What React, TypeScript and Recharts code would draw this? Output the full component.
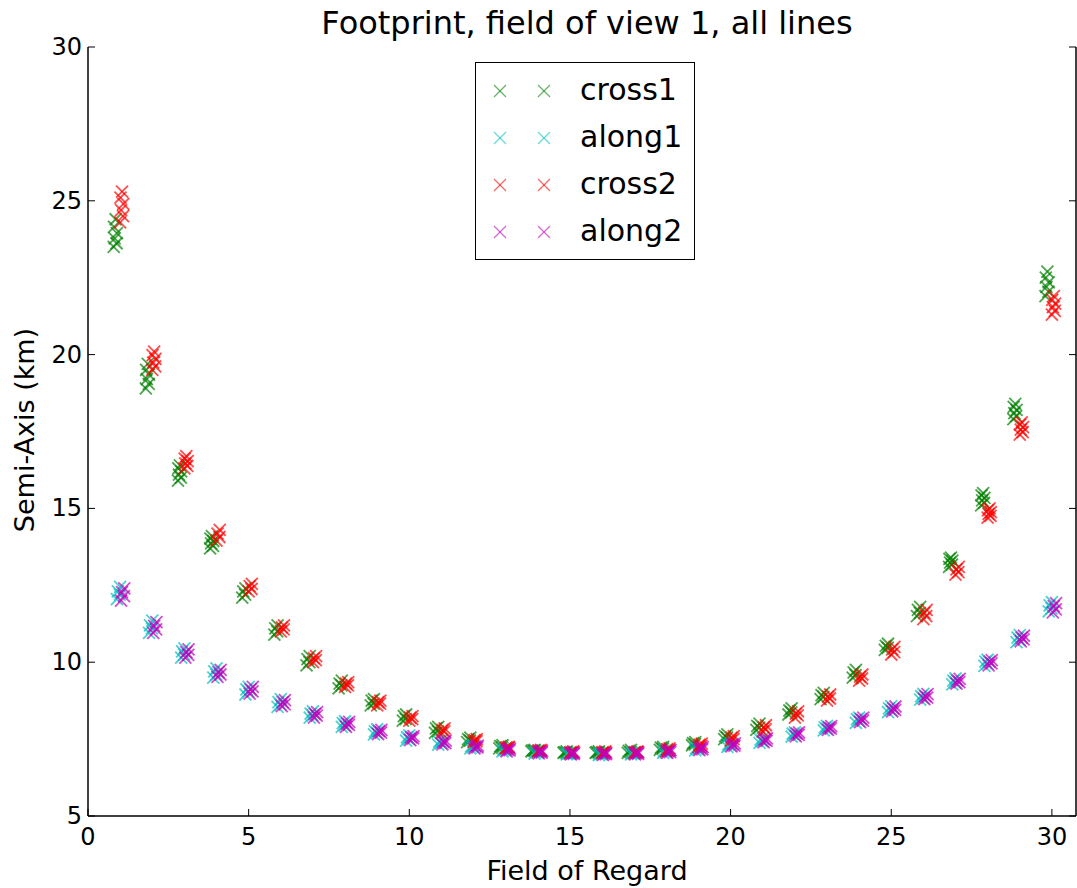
import React from 'react';
import { ScatterChart, Scatter, XAxis, YAxis } from 'recharts';

const FIELD_OF_REGARD = [1, 2, 3, 4, 5, 6, 7, 8, 9, 10, 11, 12, 13, 14, 15, 16, 17, 18, 19, 20, 21, 22, 23, 24, 25, 26, 27, 28, 29, 30];

const CROSS1 = [
  [23.5, 23.62, 23.78, 23.95, 24.15, 24.4], [18.9, 19.05, 19.2, 19.35, 19.5, 19.7], [15.9, 16.0, 16.1, 16.2, 16.3, 16.4], [13.7, 13.78, 13.86, 13.94, 14.02, 14.1],
  [12.1, 12.2, 12.3, 12.4], [10.9, 11.0, 11.1, 11.2], [9.9, 10.0, 10.1, 10.2], [9.15, 9.25, 9.3, 9.4],
  [8.6, 8.65, 8.75, 8.8], [8.1, 8.15, 8.25, 8.3], [7.7, 7.75, 7.85, 7.9], [7.4, 7.45, 7.5, 7.55],
  [7.2, 7.22, 7.27, 7.3], [7.1, 7.12, 7.13, 7.15], [7.05, 7.06, 7.08, 7.1], [7.05, 7.06, 7.08, 7.1],
  [7.05, 7.08, 7.12, 7.15], [7.15, 7.18, 7.22, 7.25], [7.3, 7.33, 7.37, 7.4], [7.5, 7.55, 7.6, 7.65],
  [7.8, 7.87, 7.93, 8.0], [8.3, 8.37, 8.43, 8.5], [8.8, 8.87, 8.93, 9.0], [9.5, 9.58, 9.67, 9.75],
  [10.4, 10.47, 10.53, 10.6], [11.5, 11.6, 11.7, 11.8], [13.1, 13.17, 13.24, 13.3, 13.36, 13.4], [15.1, 15.18, 15.26, 15.34, 15.42, 15.5],
  [17.9, 18.0, 18.1, 18.2, 18.3, 18.4], [21.9, 22.05, 22.2, 22.35, 22.5, 22.7],
];

const ALONG1 = [
  [12.05, 12.2, 12.3, 12.45], [10.95, 11.1, 11.2, 11.35], [10.15, 10.25, 10.35, 10.45], [9.5, 9.6, 9.7, 9.8],
  [8.95, 9.05, 9.12, 9.2], [8.55, 8.62, 8.7, 8.8], [8.2, 8.27, 8.33, 8.4], [7.9, 7.95, 8.02, 8.08],
  [7.65, 7.7, 7.75, 7.82], [7.45, 7.5, 7.56, 7.62], [7.32, 7.37, 7.42, 7.47], [7.2, 7.23, 7.27, 7.3],
  [7.1, 7.13, 7.17, 7.2], [7.03, 7.06, 7.09, 7.12], [7.0, 7.02, 7.04, 7.06], [6.98, 7.0, 7.03, 7.05],
  [7.0, 7.02, 7.05, 7.07], [7.05, 7.08, 7.12, 7.15], [7.13, 7.17, 7.21, 7.25], [7.25, 7.29, 7.33, 7.37],
  [7.38, 7.43, 7.48, 7.52], [7.58, 7.63, 7.68, 7.72], [7.78, 7.83, 7.88, 7.93], [8.03, 8.09, 8.15, 8.2],
  [8.38, 8.44, 8.5, 8.57], [8.78, 8.84, 8.9, 8.97], [9.28, 9.34, 9.4, 9.47], [9.88, 9.95, 10.02, 10.08],
  [10.65, 10.73, 10.8, 10.88], [11.65, 11.75, 11.85, 11.95],
];

const CROSS2 = [
  [24.3, 24.5, 24.7, 24.9, 25.1, 25.3], [19.5, 19.62, 19.74, 19.86, 19.98, 20.1], [16.3, 16.38, 16.46, 16.54, 16.62, 16.7], [13.95, 14.07, 14.18, 14.3],
  [12.3, 12.38, 12.47, 12.55], [11.0, 11.07, 11.13, 11.2], [10.0, 10.07, 10.13, 10.2], [9.2, 9.25, 9.3, 9.35],
  [8.6, 8.65, 8.7, 8.75], [8.1, 8.15, 8.2, 8.25], [7.7, 7.75, 7.8, 7.85], [7.4, 7.43, 7.47, 7.5],
  [7.2, 7.22, 7.23, 7.25], [7.1, 7.12, 7.13, 7.15], [7.05, 7.07, 7.08, 7.1], [7.05, 7.07, 7.08, 7.1],
  [7.05, 7.07, 7.08, 7.1], [7.1, 7.13, 7.17, 7.2], [7.25, 7.28, 7.32, 7.35], [7.45, 7.5, 7.55, 7.6],
  [7.75, 7.82, 7.88, 7.95], [8.2, 8.27, 8.33, 8.4], [8.75, 8.82, 8.88, 8.95], [9.4, 9.47, 9.53, 9.6],
  [10.25, 10.33, 10.42, 10.5], [11.4, 11.5, 11.6, 11.7], [12.85, 12.93, 13.02, 13.1], [14.7, 14.76, 14.82, 14.88, 14.94, 15.0],
  [17.4, 17.48, 17.56, 17.64, 17.72, 17.8], [21.3, 21.42, 21.54, 21.66, 21.78, 21.9],
];

const ALONG2 = [
  [12.0, 12.15, 12.28, 12.4], [10.95, 11.07, 11.18, 11.3], [10.15, 10.24, 10.33, 10.42], [9.52, 9.6, 9.68, 9.75],
  [8.98, 9.05, 9.12, 9.2], [8.57, 8.63, 8.7, 8.77], [8.2, 8.26, 8.32, 8.38], [7.9, 7.96, 8.01, 8.06],
  [7.66, 7.71, 7.76, 7.8], [7.47, 7.52, 7.56, 7.6], [7.33, 7.37, 7.41, 7.45], [7.2, 7.23, 7.26, 7.29],
  [7.1, 7.13, 7.16, 7.19], [7.04, 7.06, 7.09, 7.11], [7.0, 7.02, 7.04, 7.06], [6.99, 7.01, 7.03, 7.05],
  [7.0, 7.02, 7.05, 7.07], [7.05, 7.08, 7.11, 7.14], [7.14, 7.17, 7.21, 7.24], [7.26, 7.29, 7.33, 7.36],
  [7.4, 7.44, 7.48, 7.52], [7.59, 7.64, 7.68, 7.72], [7.8, 7.84, 7.88, 7.92], [8.05, 8.1, 8.15, 8.2],
  [8.4, 8.45, 8.5, 8.56], [8.8, 8.85, 8.9, 8.96], [9.3, 9.35, 9.4, 9.46], [9.9, 9.96, 10.02, 10.07],
  [10.68, 10.74, 10.8, 10.86], [11.62, 11.72, 11.82, 11.92],
];

// per-series horizontal offset of each cluster and per-point spread inside a cluster
const SERIES_NAMES = ['cross1', 'along1', 'cross2', 'along2'];
const SERIES_COLORS = ['#008000', '#00bfbf', '#ff0000', '#bf00bf'];
const SERIES_SHIFT = [-0.15, -0.05, 0.05, 0.08];
const POINT_SPREAD = [-0.05, 0.04, -0.02, 0.05, -0.04, 0.01];
const SERIES_VALUES = [CROSS1, ALONG1, CROSS2, ALONG2];

const X_TICKS = [0, 5, 10, 15, 20, 25, 30];
const Y_TICKS = [5, 10, 15, 20, 25, 30];

const FONT = '"DejaVu Sans", sans-serif';

const buildPoints = (vals: number[][], shift: number) =>
  FIELD_OF_REGARD.flatMap((f, i) => vals[i].map((v, j) => ({ x: f + shift + POINT_SPREAD[j], y: v })));

const makeCross = (color: string) => (props: any) => {
  const { cx, cy } = props;
  if (cx == null || cy == null) return <g />;
  const s = 6;
  return (
    <g stroke={color} strokeWidth={1.8} strokeOpacity={0.7}>
      <line x1={cx - s} y1={cy - s} x2={cx + s} y2={cy + s} />
      <line x1={cx - s} y1={cy + s} x2={cx + s} y2={cy - s} />
    </g>
  );
};

const BottomTick = (props: any) => {
  const { x, y, payload } = props;
  return (
    <g>
      <line x1={x} x2={x} y1={y} y2={y - 7} stroke="#000" strokeWidth={1} />
      <text x={x} y={y + 29} textAnchor="middle" fontSize={24} fontFamily={FONT} fill="#000">{payload.value}</text>
    </g>
  );
};
const TopTick = (props: any) => {
  const { x, y } = props;
  return <line x1={x} x2={x} y1={y} y2={y + 7} stroke="#000" strokeWidth={1} />;
};
const LeftTick = (props: any) => {
  const { x, y, payload } = props;
  return (
    <g>
      <line x1={x} x2={x + 7} y1={y} y2={y} stroke="#000" strokeWidth={1} />
      <text x={x - 6} y={y + 8} textAnchor="end" fontSize={24} fontFamily={FONT} fill="#000">{payload.value}</text>
    </g>
  );
};
const RightTick = (props: any) => {
  const { x, y } = props;
  return <line x1={x} x2={x - 7} y1={y} y2={y} stroke="#000" strokeWidth={1} />;
};

export default function App() {
  const X_DOMAIN = [0, 30.75];
  const Y_DOMAIN = [5, 30];
  return (
    <div style={{ position: 'absolute', left: 0, top: 0, width: 1077, height: 888, background: '#fff', fontFamily: FONT }}>
      <ScatterChart width={1077} height={888} margin={{ top: 47, right: 0, bottom: 0, left: 0 }}>
        <XAxis xAxisId="b" type="number" dataKey="x" orientation="bottom" domain={X_DOMAIN} ticks={X_TICKS}
          interval={0} tickSize={0} tickMargin={0} tick={<BottomTick />} tickLine={false}
          axisLine={{ stroke: '#000', strokeWidth: 1.5 }} height={72} allowDataOverflow />
        <XAxis xAxisId="t" type="number" orientation="top" domain={X_DOMAIN} ticks={X_TICKS}
          interval={0} tickSize={0} tickMargin={0} tick={<TopTick />} tickLine={false}
          axisLine={{ stroke: '#000', strokeWidth: 1.5 }} height={0} allowDataOverflow />
        <YAxis yAxisId="l" type="number" dataKey="y" orientation="left" domain={Y_DOMAIN} ticks={Y_TICKS}
          interval={0} tickSize={0} tickMargin={0} tick={<LeftTick />} tickLine={false}
          axisLine={{ stroke: '#000', strokeWidth: 1.5 }} width={88} allowDataOverflow />
        <YAxis yAxisId="r" type="number" orientation="right" domain={Y_DOMAIN} ticks={Y_TICKS}
          interval={0} tickSize={0} tickMargin={0} tick={<RightTick />} tickLine={false}
          axisLine={{ stroke: '#000', strokeWidth: 1.5 }} width={1} allowDataOverflow />
        {SERIES_NAMES.map((name, k) => (
          <Scatter key={name} name={name} xAxisId="b" yAxisId="l"
            data={buildPoints(SERIES_VALUES[k], SERIES_SHIFT[k])}
            shape={makeCross(SERIES_COLORS[k])} isAnimationActive={false} />
        ))}
      </ScatterChart>

      <div style={{ position: 'absolute', left: 0, width: 1174, top: 4, textAlign: 'center', fontSize: 32, color: '#000', whiteSpace: 'nowrap' }}>
        Footprint, field of view 1, all lines
      </div>
      <div style={{ position: 'absolute', left: 0, width: 1174, top: 855, textAlign: 'center', fontSize: 27, color: '#000', whiteSpace: 'nowrap' }}>
        Field of Regard
      </div>
      <div style={{ position: 'absolute', left: 24, top: 430, width: 0, height: 0 }}>
        <div style={{ position: 'absolute', transform: 'translate(-50%, -50%) rotate(-90deg)', fontSize: 27, color: '#000', whiteSpace: 'nowrap' }}>
          Semi-Axis (km)
        </div>
      </div>

      <div style={{ position: 'absolute', left: 475, top: 62, width: 218, height: 196, border: '1.5px solid #000', background: '#fff' }}>
        {SERIES_NAMES.map((name, k) => (
          <div key={name} style={{ position: 'absolute', left: 0, top: 8 + k * 47, height: 40, width: 218 }}>
            <svg width={90} height={40} style={{ position: 'absolute', left: 0, top: 0 }}>
              {[24, 68].map((cx) => (
                <g key={cx} stroke={SERIES_COLORS[k]} strokeWidth={1.3} strokeOpacity={0.6}>
                  <line x1={cx - 6} y1={20 - 6} x2={cx + 6} y2={20 + 6} />
                  <line x1={cx - 6} y1={20 + 6} x2={cx + 6} y2={20 - 6} />
                </g>
              ))}
            </svg>
            <div style={{ position: 'absolute', left: 104, top: 1, fontSize: 30, lineHeight: '36px', color: '#000' }}>{name}</div>
          </div>
        ))}
      </div>
    </div>
  );
}
